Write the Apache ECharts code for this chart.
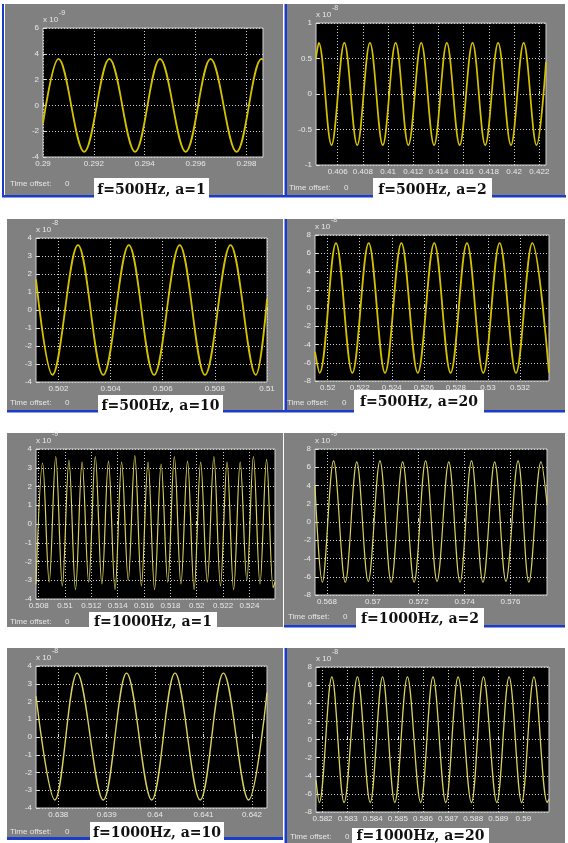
<!DOCTYPE html>
<html><head><meta charset="utf-8">
<script src="https://cdn.jsdelivr.net/npm/echarts@6/dist/echarts.min.js"></script>
<style>html,body{margin:0;padding:0;background:#fff}#c{width:568px;height:843px}</style>
</head><body><div id="c"></div>
<script>
// ---------- data ----------
const titles = ['f=500Hz, a=1','f=500Hz, a=2','f=500Hz, a=10','f=500Hz, a=20',
                'f=1000Hz, a=1','f=1000Hz, a=2','f=1000Hz, a=10','f=1000Hz, a=20'];
const exponents = ['-9','-8','-8','-8','-9','-9','-8','-8'];
const offsetLabel = 'Time offset:';
const offsetValue = '0';

// x-axis limits (s) and tick labels
const xLimits = [[0.29,0.29865],[0.40428,0.42253],[0.50114,0.51],[0.51921,0.53381],
                 [0.5078,0.52594],[0.56748,0.57759],[0.63754,0.64231],[0.58174,0.59102]];
const xTicks1 = [0.29,0.292,0.294,0.296,0.298];
const xTicks2 = [0.406,0.408,0.41,0.412,0.414,0.416,0.418,0.42,0.422];
const xTicks3 = [0.502,0.504,0.506,0.508,0.51];
const xTicks4 = [0.52,0.522,0.524,0.526,0.528,0.53,0.532];
const xTicks5 = [0.508,0.51,0.512,0.514,0.516,0.518,0.52,0.522,0.524];
const xTicks6 = [0.568,0.57,0.572,0.574,0.576];
const xTicks7 = [0.638,0.639,0.64,0.641,0.642];
const xTicks8 = [0.582,0.583,0.584,0.585,0.586,0.587,0.588,0.589,0.59];
// y-axis [min, max, step] in units of 10^exponent
const yScales = [[-4,6,2],[-1,1,0.5],[-4,4,1],[-8,8,2],[-4,4,1],[-8,8,2],[-4,4,1],[-8,8,2]];

// waveforms: [time, value] read at extremes and edges
const wave1 = [[0.29,-1.4],[0.29061,3.6],[0.29162,-3.6],[0.29261,3.6],[0.29362,-3.6],[0.2946,3.6],
  [0.29561,-3.6],[0.29659,3.6],[0.29761,-3.6],[0.29859,3.6],[0.29865,3.55]];
const wave2 = [[0.40428,0.5],[0.4045,0.72],[0.40551,-0.72],[0.40653,0.72],[0.40755,-0.72],[0.40856,0.72],
  [0.40958,-0.72],[0.4106,0.72],[0.41161,-0.72],[0.41263,0.72],[0.41365,-0.72],[0.41466,0.72],
  [0.41568,-0.72],[0.4167,0.72],[0.41771,-0.72],[0.41873,0.72],[0.41975,-0.72],[0.42076,0.72],
  [0.42178,-0.72],[0.42253,0.45]];
const wave3 = [[0.50114,1.7],[0.50177,-3.6],[0.50275,3.6],[0.50372,-3.6],[0.5047,3.6],[0.50567,-3.6],
  [0.50665,3.6],[0.50762,-3.6],[0.5086,3.6],[0.50957,-3.6],[0.51,0.6]];
const wave4 = [[0.51921,-4.8],[0.5195,-7.1],[0.52052,7.1],[0.52154,-7.1],[0.52256,7.1],[0.52358,-7.1],
  [0.5246,7.1],[0.52562,-7.1],[0.52665,7.1],[0.52767,-7.1],[0.52869,7.1],[0.52971,-7.1],[0.53073,7.1],
  [0.53175,-7.1],[0.53277,7.1],[0.53381,-7.1]];
const wave5 = [[0.5078,-3.2],[0.5083,3.25],[0.5088,-3.1],[0.5093,3.6],[0.5098,-3.3],[0.5103,3.4],
  [0.5108,-3.5],[0.5113,3.3],[0.5118,-3.1],[0.5123,3.6],[0.5128,-3.2],[0.5133,3.35],[0.5138,-3.5],
  [0.5143,3.3],[0.5148,-3.0],[0.5153,3.65],[0.5158,-3.3],[0.5163,3.3],[0.5168,-3.5],[0.5173,3.2],
  [0.5178,-3.1],[0.5183,3.6],[0.5188,-3.2],[0.5193,3.35],[0.5198,-3.5],[0.5203,3.3],[0.5208,-3.1],
  [0.5213,3.6],[0.5218,-3.3],[0.5223,3.3],[0.5228,-3.5],[0.5233,3.3],[0.5238,-3.0],[0.5243,3.6],
  [0.5248,-3.2],[0.5253,3.45],[0.5258,-3.4],[0.52594,-3.1]];
const wave6 = [[0.56748,4.0],[0.5678,-6.6],[0.56829,6.7],[0.5688,-6.6],[0.5693,6.6],[0.5698,-6.5],
  [0.57031,6.7],[0.5708,-6.6],[0.5713,6.6],[0.5718,-6.6],[0.5723,6.7],[0.5728,-6.5],[0.57331,6.6],
  [0.5738,-6.6],[0.5743,6.7],[0.5748,-6.6],[0.57531,6.6],[0.5758,-6.5],[0.57633,6.7],[0.5768,-6.6],
  [0.57733,6.6],[0.57759,2.0]];
const wave7 = [[0.63754,2.3],[0.63793,-3.55],[0.63839,3.6],[0.63893,-3.55],[0.63941,3.6],[0.63993,-3.55],
  [0.64041,3.6],[0.64093,-3.55],[0.64141,3.6],[0.64193,-3.55],[0.64231,2.5]];
const wave8 = [[0.58174,-4.5],[0.58187,-6.95],[0.58237,6.9],[0.58286,-6.95],[0.58339,6.9],[0.5839,-6.95],
  [0.58439,6.9],[0.58488,-6.95],[0.58538,6.9],[0.58591,-6.95],[0.5864,6.9],[0.58691,-6.95],[0.5874,6.9],
  [0.58793,-6.95],[0.58841,6.9],[0.58894,-6.95],[0.58943,6.9],[0.58993,-6.95],[0.59042,6.9],
  [0.59095,-6.95],[0.59102,-6.6]];

const xTicks = [xTicks1,xTicks2,xTicks3,xTicks4,xTicks5,xTicks6,xTicks7,xTicks8];
const waves = [wave1,wave2,wave3,wave4,wave5,wave6,wave7,wave8];

// ---------- layout ----------
const plots = [[43,28,220,129],[316,23,230,142],[36,238,231,144],[315,235,234,146],
               [36,449,239,150],[315,449,232,146],[36,666,231,142],[316,667,233,145]];
const panelsBg = [[5,4,278,191],[287,4,278,191],[7,219,276,191],[287,219,278,191],
                  [7,433,276,194],[284,433,281,192],[7,648,276,189],[287,648,278,195]];
const blueBars = [[2,4,2,193],[2,195,564,2.5],[284.5,4,2.5,193],
                  [7,410,558,2.5],[284.5,219,2.5,193],
                  [284,625,281,2.5],
                  [7,837,276,3],[284.5,648,2.5,195]];
const labelBoxes = [[94,178,115,22],[373,178,119,22],[98,395,125,20],[354,390,130,23],
                    [89,612,128,18],[356,608,128,20],[90,822,134,20],[352,828,137,15]];
const offsetPos = [[10,184],[289,188],[10,403],[287,403],[10,622],[288,617],[10,832],[290,837]];
const lineStyles = [['#d4c200',1.8],['#d4c200',1.7],['#d4c200',1.8],['#d4c200',1.8],
                    ['#d8d060',1.2],['#d8d060',1.2],['#d8d060',1.4],['#d8d060',1.3]];

const grey = '#808080', blue = '#1a3cc8';
const sans = 'Liberation Sans, Arial, sans-serif';
const fmt = v => String(+(+v).toFixed(4));

const grids = [], xAxes = [], yAxes = [], series = [], graphics = [];
for (let i = 0; i < 8; i++) {
  const [l,t,w,h] = plots[i];
  grids.push({left:l, top:t, width:w, height:h, show:true, backgroundColor:'#000',
              borderColor:'#d0d0d0', borderWidth:1, containLabel:false});
  xAxes.push({type:'value', gridIndex:i, min:xLimits[i][0], max:xLimits[i][1],
    axisLine:{show:false},
    axisTick:{show:true, inside:true, length:3, customValues:xTicks[i], lineStyle:{color:'#ddd'}},
    axisLabel:{customValues:xTicks[i], formatter:fmt, color:'#e8e8e8', fontSize:8, fontFamily:sans, margin:3},
    splitLine:{show:true, lineStyle:{color:'#d0d0d0', type:[1,2], width:1}}});
  const [ymin,ymax,ys] = yScales[i];
  yAxes.push({type:'value', gridIndex:i, min:ymin, max:ymax, interval:ys,
    axisLine:{show:false},
    axisTick:{show:true, inside:true, length:3, lineStyle:{color:'#ddd'}},
    axisLabel:{color:'#e8e8e8', fontSize:8, fontFamily:sans, margin:4},
    splitLine:{show:true, lineStyle:{color:'#d0d0d0', type:[1,2], width:1}}});
  series.push({type:'line', xAxisIndex:i, yAxisIndex:i, data:waves[i], showSymbol:false,
    smooth:0.36, clip:true, lineStyle:{color:lineStyles[i][0], width:lineStyles[i][1]}});

  const [bx,by,bw,bh] = panelsBg[i];
  graphics.push({type:'rect', shape:{x:bx,y:by,width:bw,height:bh}, style:{fill:grey}, z:-20});
  // exponent label
  graphics.push({type:'text', x:l, y:t-8, z:50,
    style:{text:'x 10', fill:'#e8e8e8', font:'8px '+sans, verticalAlign:'middle'}});
  graphics.push({type:'text', x:l+16, y:t-15, z:50,
    style:{text:exponents[i], fill:'#e8e8e8', font:'7px '+sans, verticalAlign:'middle'}});
  const [ox,oy] = offsetPos[i];
  graphics.push({type:'text', x:ox, y:oy, z:50,
    style:{text:offsetLabel, fill:'#e6e6e6', font:'8px '+sans, verticalAlign:'middle'}});
  graphics.push({type:'text', x:ox+55, y:oy, z:50,
    style:{text:offsetValue, fill:'#e6e6e6', font:'8px '+sans, verticalAlign:'middle'}});
}
blueBars.forEach(([x,y,w,h]) => graphics.push({type:'rect', shape:{x,y,width:w,height:h}, style:{fill:blue}, z:-10}));
labelBoxes.forEach(([x,y,w,h],i) => {
  graphics.push({type:'rect', shape:{x,y,width:w,height:h}, style:{fill:'#fff'}, z:60});
  graphics.push({type:'text', x:x+w/2, y:y+h/2+1, z:61,
    style:{text:titles[i], fill:'#111', font:'bold 14px "DejaVu Serif", serif', align:'center', verticalAlign:'middle'}});
});

const chart = echarts.init(document.getElementById('c'), null, {renderer:'canvas'});
chart.setOption({animation:false, backgroundColor:'#fff', grid:grids, xAxis:xAxes, yAxis:yAxes,
  series:series, graphic:{elements:graphics}});
</script></body></html>
